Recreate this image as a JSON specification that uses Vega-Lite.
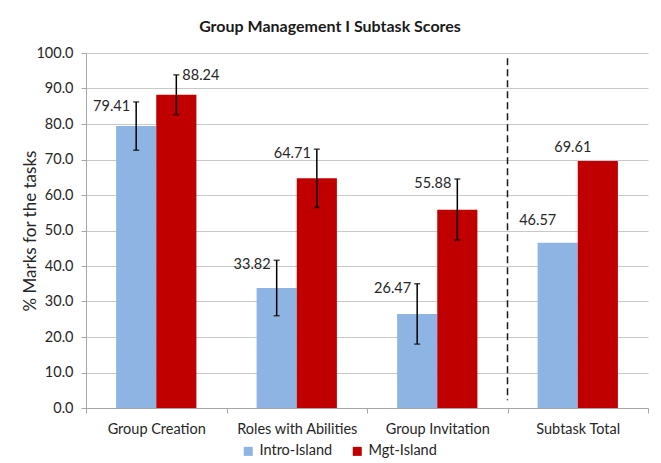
{
  "$schema": "https://vega.github.io/schema/vega-lite/v6.json",
  "autosize": {"type": "none"},
  "width": 562,
  "height": 355,
  "padding": {"left": 86, "top": 53, "right": 13, "bottom": 55},
  "background": "white",
  "config": {"font": "Lato", "view": {"stroke": null},
    "axisY": {"values": [0, 10, 20, 30, 40, 50, 60, 70, 80, 90, 100], "format": ".1f", "labelOverlap": false, "titleFontSize": 17, "titleFontWeight": "normal", "titleColor": "#262626", "titlePadding": -4, "labelFontSize": 14.5, "labelColor": "#262626", "labelPadding": 8, "tickSize": 5, "gridColor": "#C8C8C8", "domainColor": "#A6A6A6", "tickColor": "#A6A6A6"}},
  "title": {"text": "Group Management I Subtask Scores", "fontSize": 16, "fontWeight": "bold", "color": "#1a1a1a", "dx": -37, "offset": 10, "anchor": "middle"},
  "data": {"values": [
    {"task": "Group Creation", "series": "Intro-Island", "value": 79.41, "lower": 72.61, "upper": 86.21},
    {"task": "Group Creation", "series": "Mgt-Island", "value": 88.24, "lower": 82.64, "upper": 93.84},
    {"task": "Roles with Abilities", "series": "Intro-Island", "value": 33.82, "lower": 26.0, "upper": 41.6},
    {"task": "Roles with Abilities", "series": "Mgt-Island", "value": 64.71, "lower": 56.5, "upper": 72.9},
    {"task": "Group Invitation", "series": "Intro-Island", "value": 26.47, "lower": 18.0, "upper": 35.0},
    {"task": "Group Invitation", "series": "Mgt-Island", "value": 55.88, "lower": 47.3, "upper": 64.5},
    {"task": "Subtask Total", "series": "Intro-Island", "value": 46.57, "lower": null, "upper": null},
    {"task": "Subtask Total", "series": "Mgt-Island", "value": 69.61, "lower": null, "upper": null}
  ]},
  "layer": [
    {
      "mark": {"type": "bar"},
      "encoding": {
        "x": {"field": "task", "type": "nominal", "sort": ["Group Creation", "Roles with Abilities", "Group Invitation", "Subtask Total"],
              "scale": {"paddingInner": 0, "paddingOuter": 0},
              "axis": {"title": null, "labelAngle": 0, "labelFontSize": 14.5, "labelColor": "#262626", "domainColor": "#A6A6A6", "tickColor": "#A6A6A6", "tickSize": 5, "tickBand": "extent", "labelPadding": 9, "grid": false}},
        "xOffset": {"field": "series", "type": "nominal", "sort": ["Intro-Island", "Mgt-Island"], "scale": {"paddingInner": 0, "paddingOuter": 0.75}},
        "y": {"field": "value", "type": "quantitative", "scale": {"domain": [0, 100]}, "title": "% Marks for the tasks",
              "axis": {"values": [0, 10, 20, 30, 40, 50, 60, 70, 80, 90, 100], "format": ".1f", "labelOverlap": false}},
        "color": {"field": "series", "type": "nominal", "scale": {"domain": ["Intro-Island", "Mgt-Island"], "range": ["#8EB4E3", "#C00000"]},
                  "legend": {"orient": "none", "legendX": 155, "legendY": 391, "direction": "horizontal", "title": null, "symbolType": "square", "symbolSize": 81, "symbolStrokeWidth": 0, "labelFontSize": 14.5, "labelColor": "#262626", "columnPadding": 17, "labelOffset": 4}}
      }
    },
    {
      "data": {"values": [{"a": 1}]},
      "mark": {"type": "rule", "color": "#1a1a1a", "strokeWidth": 1.5, "strokeDash": [7, 4]},
      "encoding": {
        "x": {"datum": "Subtask Total", "bandPosition": 0},
        "y": {"datum": 98.5, "title": "% Marks for the tasks", "axis": {"values": [0, 10, 20, 30, 40, 50, 60, 70, 80, 90, 100], "format": ".1f", "labelOverlap": false}},
        "y2": {"datum": 2.2}
      }
    },
    {
      "transform": [{"filter": "datum.lower != null"}],
      "mark": {"type": "rule", "color": "black", "strokeWidth": 1.5},
      "encoding": {
        "x": {"field": "task", "type": "nominal", "sort": ["Group Creation", "Roles with Abilities", "Group Invitation", "Subtask Total"]},
        "xOffset": {"field": "series", "type": "nominal", "sort": ["Intro-Island", "Mgt-Island"]},
        "y": {"field": "lower", "type": "quantitative", "title": "% Marks for the tasks", "axis": {"values": [0, 10, 20, 30, 40, 50, 60, 70, 80, 90, 100], "format": ".1f", "labelOverlap": false}},
        "y2": {"field": "upper"}
      }
    },
    {
      "transform": [{"filter": "datum.lower != null"}],
      "mark": {"type": "tick", "color": "black", "size": 6, "thickness": 1.5},
      "encoding": {
        "x": {"field": "task", "type": "nominal", "sort": ["Group Creation", "Roles with Abilities", "Group Invitation", "Subtask Total"]},
        "xOffset": {"field": "series", "type": "nominal", "sort": ["Intro-Island", "Mgt-Island"]},
        "y": {"field": "lower", "type": "quantitative", "title": "% Marks for the tasks", "axis": {"values": [0, 10, 20, 30, 40, 50, 60, 70, 80, 90, 100], "format": ".1f", "labelOverlap": false}}
      }
    },
    {
      "transform": [{"filter": "datum.lower != null"}],
      "mark": {"type": "tick", "color": "black", "size": 6, "thickness": 1.5},
      "encoding": {
        "x": {"field": "task", "type": "nominal", "sort": ["Group Creation", "Roles with Abilities", "Group Invitation", "Subtask Total"]},
        "xOffset": {"field": "series", "type": "nominal", "sort": ["Intro-Island", "Mgt-Island"]},
        "y": {"field": "upper", "type": "quantitative", "title": "% Marks for the tasks", "axis": {"values": [0, 10, 20, 30, 40, 50, 60, 70, 80, 90, 100], "format": ".1f", "labelOverlap": false}}
      }
    },
    {
      "transform": [{"filter": "datum.lower != null && !(datum.task == 'Group Creation' && datum.series == 'Mgt-Island')"}],
      "mark": {"type": "text", "align": "right", "baseline": "middle", "dx": -6, "dy": 5, "fontSize": 14.5, "color": "#262626"},
      "encoding": {
        "x": {"field": "task", "type": "nominal", "sort": ["Group Creation", "Roles with Abilities", "Group Invitation", "Subtask Total"]},
        "xOffset": {"field": "series", "type": "nominal", "sort": ["Intro-Island", "Mgt-Island"]},
        "y": {"field": "upper", "type": "quantitative", "title": "% Marks for the tasks", "axis": {"values": [0, 10, 20, 30, 40, 50, 60, 70, 80, 90, 100], "format": ".1f", "labelOverlap": false}},
        "text": {"field": "value", "type": "quantitative", "format": ".2f"}
      }
    },
    {
      "transform": [{"filter": "datum.task == 'Group Creation' && datum.series == 'Mgt-Island'"}],
      "mark": {"type": "text", "align": "left", "baseline": "middle", "dx": 6, "dy": 1, "fontSize": 14.5, "color": "#262626"},
      "encoding": {
        "x": {"field": "task", "type": "nominal", "sort": ["Group Creation", "Roles with Abilities", "Group Invitation", "Subtask Total"]},
        "xOffset": {"field": "series", "type": "nominal", "sort": ["Intro-Island", "Mgt-Island"]},
        "y": {"field": "upper", "type": "quantitative", "title": "% Marks for the tasks", "axis": {"values": [0, 10, 20, 30, 40, 50, 60, 70, 80, 90, 100], "format": ".1f", "labelOverlap": false}},
        "text": {"field": "value", "type": "quantitative", "format": ".2f"}
      }
    },
    {
      "transform": [{"filter": "datum.task == 'Subtask Total' && datum.series == 'Intro-Island'"}],
      "mark": {"type": "text", "align": "center", "baseline": "middle", "dx": -20, "dy": -22, "fontSize": 14.5, "color": "#262626"},
      "encoding": {
        "x": {"field": "task", "type": "nominal", "sort": ["Group Creation", "Roles with Abilities", "Group Invitation", "Subtask Total"]},
        "xOffset": {"field": "series", "type": "nominal", "sort": ["Intro-Island", "Mgt-Island"]},
        "y": {"field": "value", "type": "quantitative", "title": "% Marks for the tasks", "axis": {"values": [0, 10, 20, 30, 40, 50, 60, 70, 80, 90, 100], "format": ".1f", "labelOverlap": false}},
        "text": {"field": "value", "type": "quantitative", "format": ".2f"}
      }
    },
    {
      "transform": [{"filter": "datum.task == 'Subtask Total' && datum.series == 'Mgt-Island'"}],
      "mark": {"type": "text", "align": "center", "baseline": "middle", "dx": -25, "dy": -13, "fontSize": 14.5, "color": "#262626"},
      "encoding": {
        "x": {"field": "task", "type": "nominal", "sort": ["Group Creation", "Roles with Abilities", "Group Invitation", "Subtask Total"]},
        "xOffset": {"field": "series", "type": "nominal", "sort": ["Intro-Island", "Mgt-Island"]},
        "y": {"field": "value", "type": "quantitative", "title": "% Marks for the tasks", "axis": {"values": [0, 10, 20, 30, 40, 50, 60, 70, 80, 90, 100], "format": ".1f", "labelOverlap": false}},
        "text": {"field": "value", "type": "quantitative", "format": ".2f"}
      }
    }
  ]
}
